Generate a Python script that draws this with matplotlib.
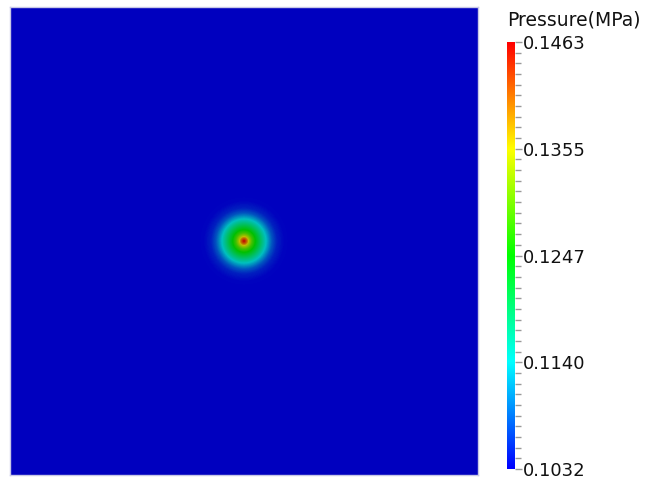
import matplotlib
matplotlib.use("Agg")
import matplotlib.pyplot as plt
import numpy as np
from matplotlib.colors import ListedColormap, hsv_to_rgb

# pressure range shown on the colour bar (MPa)
p_min = 0.1032
p_max = 0.1463
tick_labels = ["0.1032", "0.1140", "0.1247", "0.1355", "0.1463"]

# radial pressure profile around the injection point
# radius as fraction of the domain width, pressure in MPa
profile_r = [0.0, 0.0064, 0.0107, 0.0171, 0.0256, 0.0363, 0.0491, 0.0598, 0.0705, 0.0855, 0.1026, 1.5]
profile_p = [0.1463, 0.1400, 0.1340, 0.1285, 0.1240, 0.1190, 0.1130, 0.1080, 0.1050, 0.1035, 0.1032, 0.1032]
source_xy = (0.5, 0.5)

# blue-to-red rainbow (hsv), like paraview's default
hue = np.linspace(2 / 3, 0, 256)
rgb = hsv_to_rgb(np.column_stack([hue, np.ones(256), np.ones(256)]))
cmap_bar = ListedColormap(rgb)
cmap_field = ListedColormap(rgb * 0.75)  # field is drawn lit, so darker

n = 468
xs = (np.arange(n) + 0.5) / n
X, Y = np.meshgrid(xs, xs)
R = np.hypot(X - source_xy[0], Y - source_xy[1])
field = np.interp(R, profile_r, profile_p)

fig = plt.figure(figsize=(6.51, 4.8), dpi=100)
ax = fig.add_axes([10 / 651, 5 / 480, 468 / 651, 468 / 480])
ax.imshow(field, cmap=cmap_field, vmin=p_min, vmax=p_max, origin="lower",
          extent=[0, 1, 0, 1], interpolation="nearest")
ax.set_xticks([])
ax.set_yticks([])
for s in ax.spines.values():
    s.set_color("#c8c8e6")
    s.set_linewidth(1)

cax = fig.add_axes([507 / 651, 11 / 480, 8 / 651, 427 / 480])
grad = np.linspace(p_min, p_max, 256).reshape(-1, 1)
cax.imshow(grad, cmap=cmap_bar, vmin=p_min, vmax=p_max, origin="lower",
           aspect="auto", extent=[0, 1, p_min, p_max])
cax.set_xticks([])
cax.yaxis.tick_right()
major = np.linspace(p_min, p_max, len(tick_labels))
cax.set_yticks(major)
cax.set_yticklabels(tick_labels, fontsize=13, color="#111111")
cax.set_yticks(np.linspace(p_min, p_max, 41), minor=True)
cax.tick_params(axis="y", which="major", length=5, width=1, color="#999999", pad=1)
cax.tick_params(axis="y", which="minor", length=4, width=1, color="#999999")
cax.set_ylim(p_min, p_max)
for s in cax.spines.values():
    s.set_visible(False)

fig.text(507 / 651, 1 - 26 / 480, "Pressure(MPa)", fontsize=13.5, color="#111111",
         ha="left", va="baseline")

fig.savefig("out.png", dpi=100)
